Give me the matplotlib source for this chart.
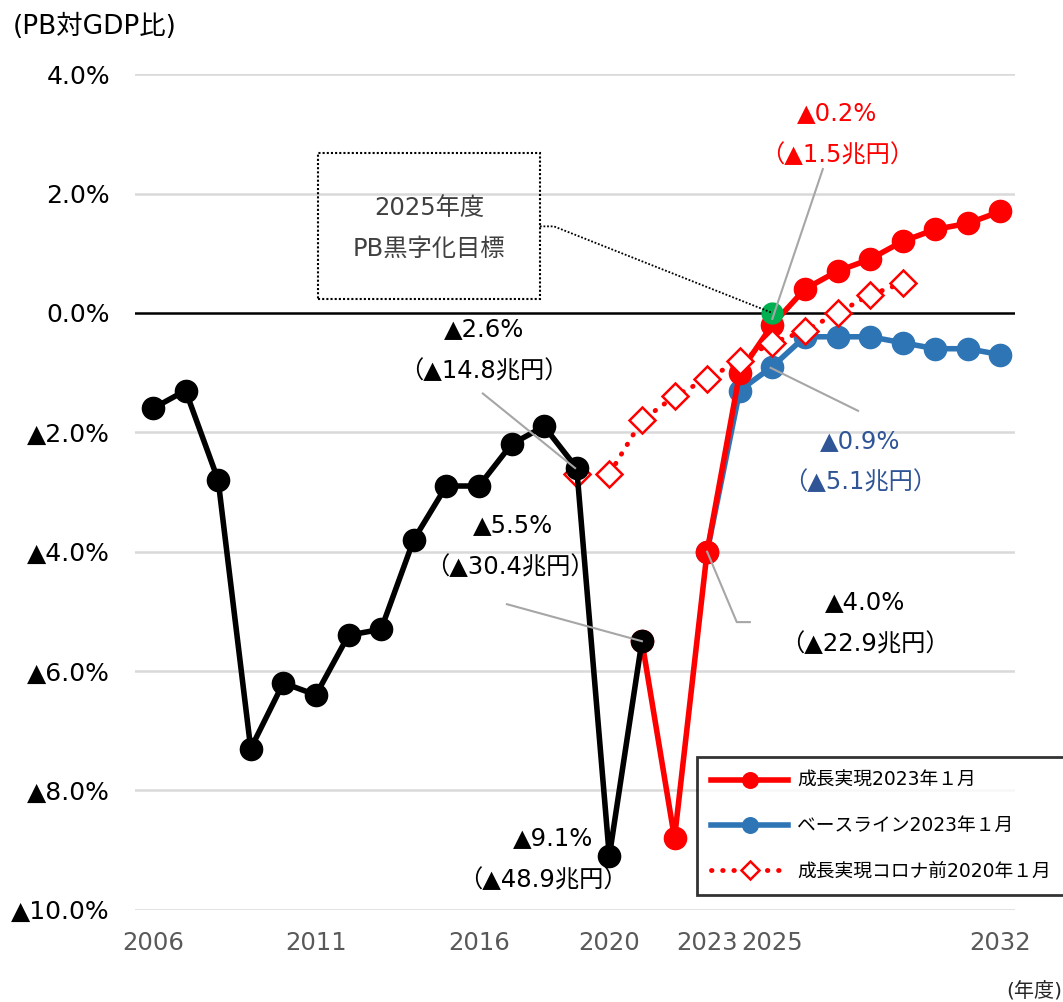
import matplotlib

matplotlib.use("Agg")
import matplotlib.pyplot as plt
from matplotlib.patches import Rectangle

plt.rcParams["font.family"] = ["DejaVu Sans", "Noto Sans CJK JP"]

# actual PB balance (% of GDP)
ACT_YEARS = list(range(2006, 2022))
ACT_VALS = [-1.6, -1.3, -2.8, -7.3, -6.2, -6.4, -5.4, -5.3, -3.8, -2.9, -2.9, -2.2, -1.9, -2.6, -9.1, -5.5]

# 成長実現 2023年1月
GROW_YEARS = list(range(2021, 2033))
GROW_VALS = [-5.5, -8.8, -4.0, -1.0, -0.2, 0.4, 0.7, 0.9, 1.2, 1.4, 1.5, 1.7]

# ベースライン 2023年1月
BASE_YEARS = list(range(2023, 2033))
BASE_VALS = [-4.0, -1.3, -0.9, -0.4, -0.4, -0.4, -0.5, -0.6, -0.6, -0.7]

# 成長実現 コロナ前 2020年1月
PRE_YEARS = list(range(2019, 2030))
PRE_VALS = [-2.7, -2.7, -1.8, -1.4, -1.1, -0.8, -0.5, -0.3, 0.0, 0.3, 0.5]

TARGET_YEAR, TARGET_VAL = 2025, 0.0

X_TICKS = [2006, 2011, 2016, 2020, 2023, 2025, 2032]
Y_TICKS = [4, 2, 0, -2, -4, -6, -8, -10]
Y_LABELS = ["4.0%", "2.0%", "0.0%", "▲2.0%", "▲4.0%", "▲6.0%", "▲8.0%", "▲10.0%"]

RED = "#FF0000"
BLUE = "#2E75B6"
DBLUE = "#2F5597"
GREY = "#A6A6A6"

fig = plt.figure(figsize=(10.63, 10.02), dpi=100)
ax = fig.add_axes([0.127, 0.092, 0.828, 0.834])
ax.set_xlim(2005.45, 2032.45)
ax.set_ylim(-10, 4)

for y in Y_TICKS:
    if y != 0:
        ax.axhline(y, color="#D9D9D9", lw=1.8, zorder=0)
ax.axhline(0, color="black", lw=1.8, zorder=1)

ax.plot(BASE_YEARS, BASE_VALS, color=BLUE, lw=4, marker="o", ms=16, zorder=3,
        label="ベースライン2023年１月")
ax.plot(GROW_YEARS, GROW_VALS, color=RED, lw=4, marker="o", ms=16, zorder=4,
        label="成長実現2023年１月")
ax.plot(PRE_YEARS, PRE_VALS, color=RED, lw=3.5, linestyle=(0, (0.1, 2.2)),
        dash_capstyle="round", marker="D", ms=13, mfc="white", mec=RED, mew=1.8,
        zorder=5, label="成長実現コロナ前2020年１月")
ax.plot(ACT_YEARS, ACT_VALS, color="black", lw=4, marker="o", ms=16, zorder=6)
ax.plot([TARGET_YEAR], [TARGET_VAL], "o", color="#00B050", ms=15, zorder=7)

ax.set_xticks(X_TICKS)
ax.set_xticklabels([str(x) for x in X_TICKS], fontsize=17.5, color="#595959")
ax.set_yticks(Y_TICKS)
ax.set_yticklabels(Y_LABELS, fontsize=18, color="black")
ax.tick_params(axis="x", length=0, pad=15)
ax.tick_params(axis="y", length=0, pad=18)
for s in ax.spines.values():
    s.set_visible(False)

fig.text(0.012, 0.973, "(PB対GDP比)", fontsize=19, ha="left", va="center")
fig.text(0.999, 0.011, "(年度)", fontsize=14.5, ha="right", va="center", color="#262626")

# annotations
fs = 17.5
def label(x, y, t1, t2, color, x2=None):
    ax.text(x, y, t1, fontsize=fs, ha="center", va="center", color=color)
    ax.text(x if x2 is None else x2, y - 0.7, t2, fontsize=fs, ha="center",
            va="center", color=color)

label(2027.0, 3.34, "▲0.2%", "（▲1.5兆円）", RED)
ax.plot([2026.55, 2025.0], [2.41, -0.1], color=GREY, lw=1.5, zorder=8)

label(2027.7, -2.14, "▲0.9%", "（▲5.1兆円）", DBLUE)
ax.plot([2024.95, 2027.63], [-0.92, -1.64], color=GREY, lw=1.5, zorder=8)

label(2027.85, -4.85, "▲4.0%", "（▲22.9兆円）", "black")
ax.plot([2023.0, 2023.91, 2024.31], [-4.0, -5.18, -5.18], color=GREY, lw=1.5, zorder=8)

label(2017.04, -3.55, "▲5.5%", "（▲30.4兆円）", "black", x2=2016.95)
ax.plot([2016.86, 2021.0], [-4.88, -5.5], color=GREY, lw=1.5, zorder=8)

label(2016.15, -0.27, "▲2.6%", "（▲14.8兆円）", "black")
ax.plot([2016.12, 2018.95], [-1.35, -2.6], color=GREY, lw=1.5, zorder=8)

label(2018.27, -8.8, "▲9.1%", "（▲48.9兆円）", "black", x2=2017.95)

# target box
ax.add_patch(Rectangle((2011.06, 0.23), 6.81, 2.45, fill=False, ec="black",
                       lw=1.5, linestyle=(0, (1, 1)), zorder=2))
ax.text(2014.47, 1.76, "2025年度", fontsize=fs, ha="center", va="center", color="#404040")
ax.text(2014.47, 1.07, "PB黒字化目標", fontsize=fs, ha="center", va="center", color="#404040")
ax.plot([2017.87, 2018.3, TARGET_YEAR], [1.45, 1.45, TARGET_VAL], color="black",
        lw=1.3, linestyle=(0, (1, 1)), zorder=8)

h, l = ax.get_legend_handles_labels()
order = [1, 0, 2]
leg = fig.legend([h[i] for i in order], [l[i] for i in order], loc="upper left",
                 bbox_to_anchor=(0.6557, 0.2445), fontsize=13.5, frameon=True,
                 fancybox=False, edgecolor="black", handlelength=4.1,
                 handletextpad=0.5, labelspacing=1.4, borderpad=0.75,
                 borderaxespad=0, markerscale=0.7)
leg.get_frame().set_linewidth(2)
leg.set_zorder(10)

fig.savefig("out.png", dpi=100)
